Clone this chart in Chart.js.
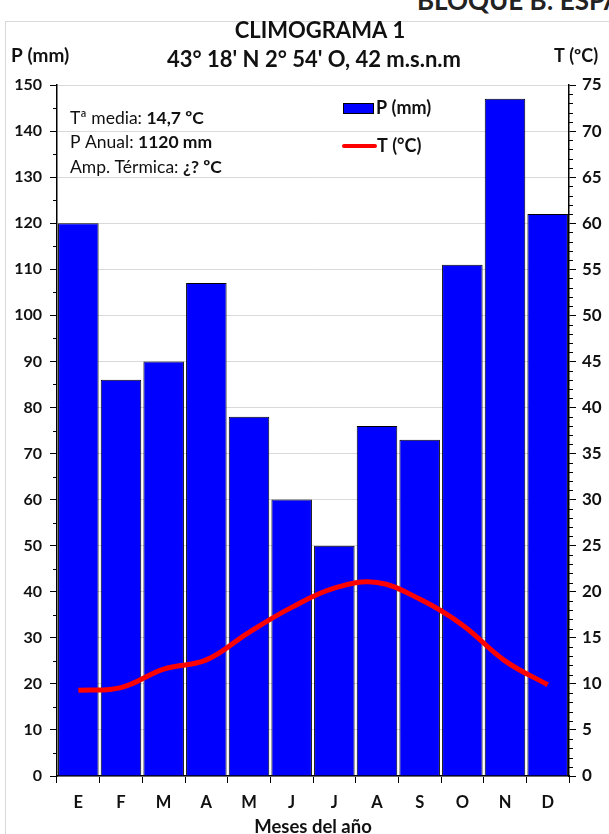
<!DOCTYPE html>
<html>
<head>
<meta charset="utf-8">
<script src="https://cdn.jsdelivr.net/npm/chart.js@4.4.1/dist/chart.umd.min.js"></script>
<style>
  html, body { margin: 0; padding: 0; background: #fff; overflow: hidden; }
  #wrap { position: relative; width: 609px; height: 834px; }
  #frame { position: absolute; left: 5px; top: 21px; width: 610px; height: 820px; border: 1px solid #d9d9d9; }
  #bloque { position: absolute; left: 417px; top: -16px; font: bold 26px Lato, sans-serif; color: #222; white-space: nowrap; }
  canvas { position: absolute; left: 0; top: 0; }
</style>
</head>
<body>
<div id="wrap">
  <div id="frame"></div>
  <div id="bloque">BLOQUE B: ESPAÑA</div>
  <canvas id="c" width="609" height="834"></canvas>
</div>
<script>
// data
const months = ['E', 'F', 'M', 'A', 'M', 'J', 'J', 'A', 'S', 'O', 'N', 'D'];
const precip = [120, 86, 90, 107, 78, 60, 50, 76, 73, 111, 147, 122];
const temp = [9.3, 9.6, 11.6, 12.6, 15.6, 18.3, 20.4, 21.0, 19.2, 16.4, 12.5, 9.9];

const titleLines = ['CLIMOGRAMA 1', "43° 18' N 2° 54' O, 42 m.s.n.m"];
const infoLines = [
  ['Tª media: ', '14,7 ºC'],
  ['P Anual: ', '1120 mm'],
  ['Amp. Térmica: ', '¿? ºC']
];

const FONT = 'Lato, "Open Sans", sans-serif';
const BLUE = '#0000FF';
const RED = '#FF0000';

// titles, info box, legend and minor ticks
const decor = {
  id: 'decor',
  afterDraw(chart) {
    const ctx = chart.ctx;
    const yL = chart.scales.y;
    const yR = chart.scales.y2;
    const area = chart.chartArea;
    ctx.save();

    // minor ticks
    ctx.strokeStyle = '#000';
    ctx.lineWidth = 1;
    for (let v = 5; v < 150; v += 10) {
      const p = Math.round(yL.getPixelForValue(v)) + 0.5;
      ctx.beginPath(); ctx.moveTo(area.left - 4, p); ctx.lineTo(area.left, p); ctx.stroke();
    }
    for (let v = 1; v < 75; v++) {
      if (v % 5 === 0) continue;
      const p = Math.round(yR.getPixelForValue(v)) + 0.5;
      ctx.beginPath(); ctx.moveTo(area.right, p); ctx.lineTo(area.right + 4, p); ctx.stroke();
    }

    // titles
    ctx.fillStyle = '#111';
    ctx.textAlign = 'center';
    ctx.textBaseline = 'middle';
    ctx.font = 'bold 22px ' + FONT;
    ctx.fillText(titleLines[0], 320, 31);
    ctx.font = 'bold 22px ' + FONT;
    ctx.fillText(titleLines[1], 314, 60);

    ctx.font = 'bold 19px ' + FONT;
    ctx.textAlign = 'left';
    ctx.fillText('P (mm)', 11, 56);
    ctx.font = 'bold 18px ' + FONT;
    ctx.fillText('T (ºC)', 554, 56);

    // info box
    infoLines.forEach((l, i) => {
      const y = 118 + i * 24.5;
      ctx.font = '17.5px ' + FONT;
      ctx.fillText(l[0], 70, y);
      const w = ctx.measureText(l[0]).width;
      ctx.font = 'bold 17.5px ' + FONT;
      ctx.fillText(l[1], 70 + w, y);
    });

    // legend
    ctx.fillStyle = BLUE;
    ctx.fillRect(343, 103, 31, 11);
    ctx.strokeStyle = '#000';
    ctx.strokeRect(343.5, 103.5, 30, 10);
    ctx.strokeStyle = RED;
    ctx.lineWidth = 4;
    ctx.lineCap = 'round';
    ctx.beginPath(); ctx.moveTo(344, 146); ctx.lineTo(375, 146); ctx.stroke();
    ctx.fillStyle = '#111';
    ctx.font = 'bold 18px ' + FONT;
    ctx.fillText('P (mm)', 376, 108);
    ctx.fillText('T (°C)', 377, 146);
    ctx.restore();
  }
};

new Chart(document.getElementById('c'), {
  data: {
    labels: months,
    datasets: [
      {
        type: 'line',
        label: 'T (°C)',
        data: temp,
        yAxisID: 'y2',
        borderColor: RED,
        borderWidth: 5,
        pointRadius: 0,
        tension: 0.4,
        order: 0
      },
      {
        type: 'bar',
        label: 'P (mm)',
        data: precip,
        yAxisID: 'y',
        backgroundColor: BLUE,
        borderColor: '#000',
        borderWidth: 1,
        barPercentage: 0.95,
        categoryPercentage: 1,
        order: 1
      }
    ]
  },
  options: {
    responsive: false,
    animation: false,
    layout: { padding: { top: 85, left: 0, right: 0, bottom: 0 } },
    plugins: {
      legend: { display: false },
      tooltip: { enabled: false }
    },
    scales: {
      x: {
        grid: { drawOnChartArea: false, tickLength: 7, tickColor: '#000' },
        border: { color: '#000', width: 1.5 },
        ticks: { color: '#111', font: { family: FONT, size: 16.5, weight: 'bold' }, padding: 10 },
        title: { display: true, text: 'Meses del año', color: '#111', font: { family: FONT, size: 18.5, weight: 'bold' }, padding: { top: 1, bottom: -4 } },
        afterFit(s) { s.height = 58; }
      },
      y: {
        position: 'left',
        min: 0, max: 150,
        ticks: { stepSize: 10, color: '#111', font: { family: FONT, size: 16, weight: 'bold' }, padding: 8 },
        grid: { color: '#d9d9d9', tickColor: '#000', tickLength: 7 },
        border: { color: '#000', width: 1.5 },
        afterFit(s) { s.width = 57; }
      },
      y2: {
        position: 'right',
        min: 0, max: 75,
        ticks: { stepSize: 5, color: '#111', font: { family: FONT, size: 17, weight: 'bold' }, padding: 6 },
        grid: { drawOnChartArea: false, tickColor: '#000', tickLength: 7 },
        border: { color: '#000', width: 1.5 },
        afterFit(s) { s.width = 40; }
      }
    }
  },
  plugins: [decor]
});
</script>
</body>
</html>
